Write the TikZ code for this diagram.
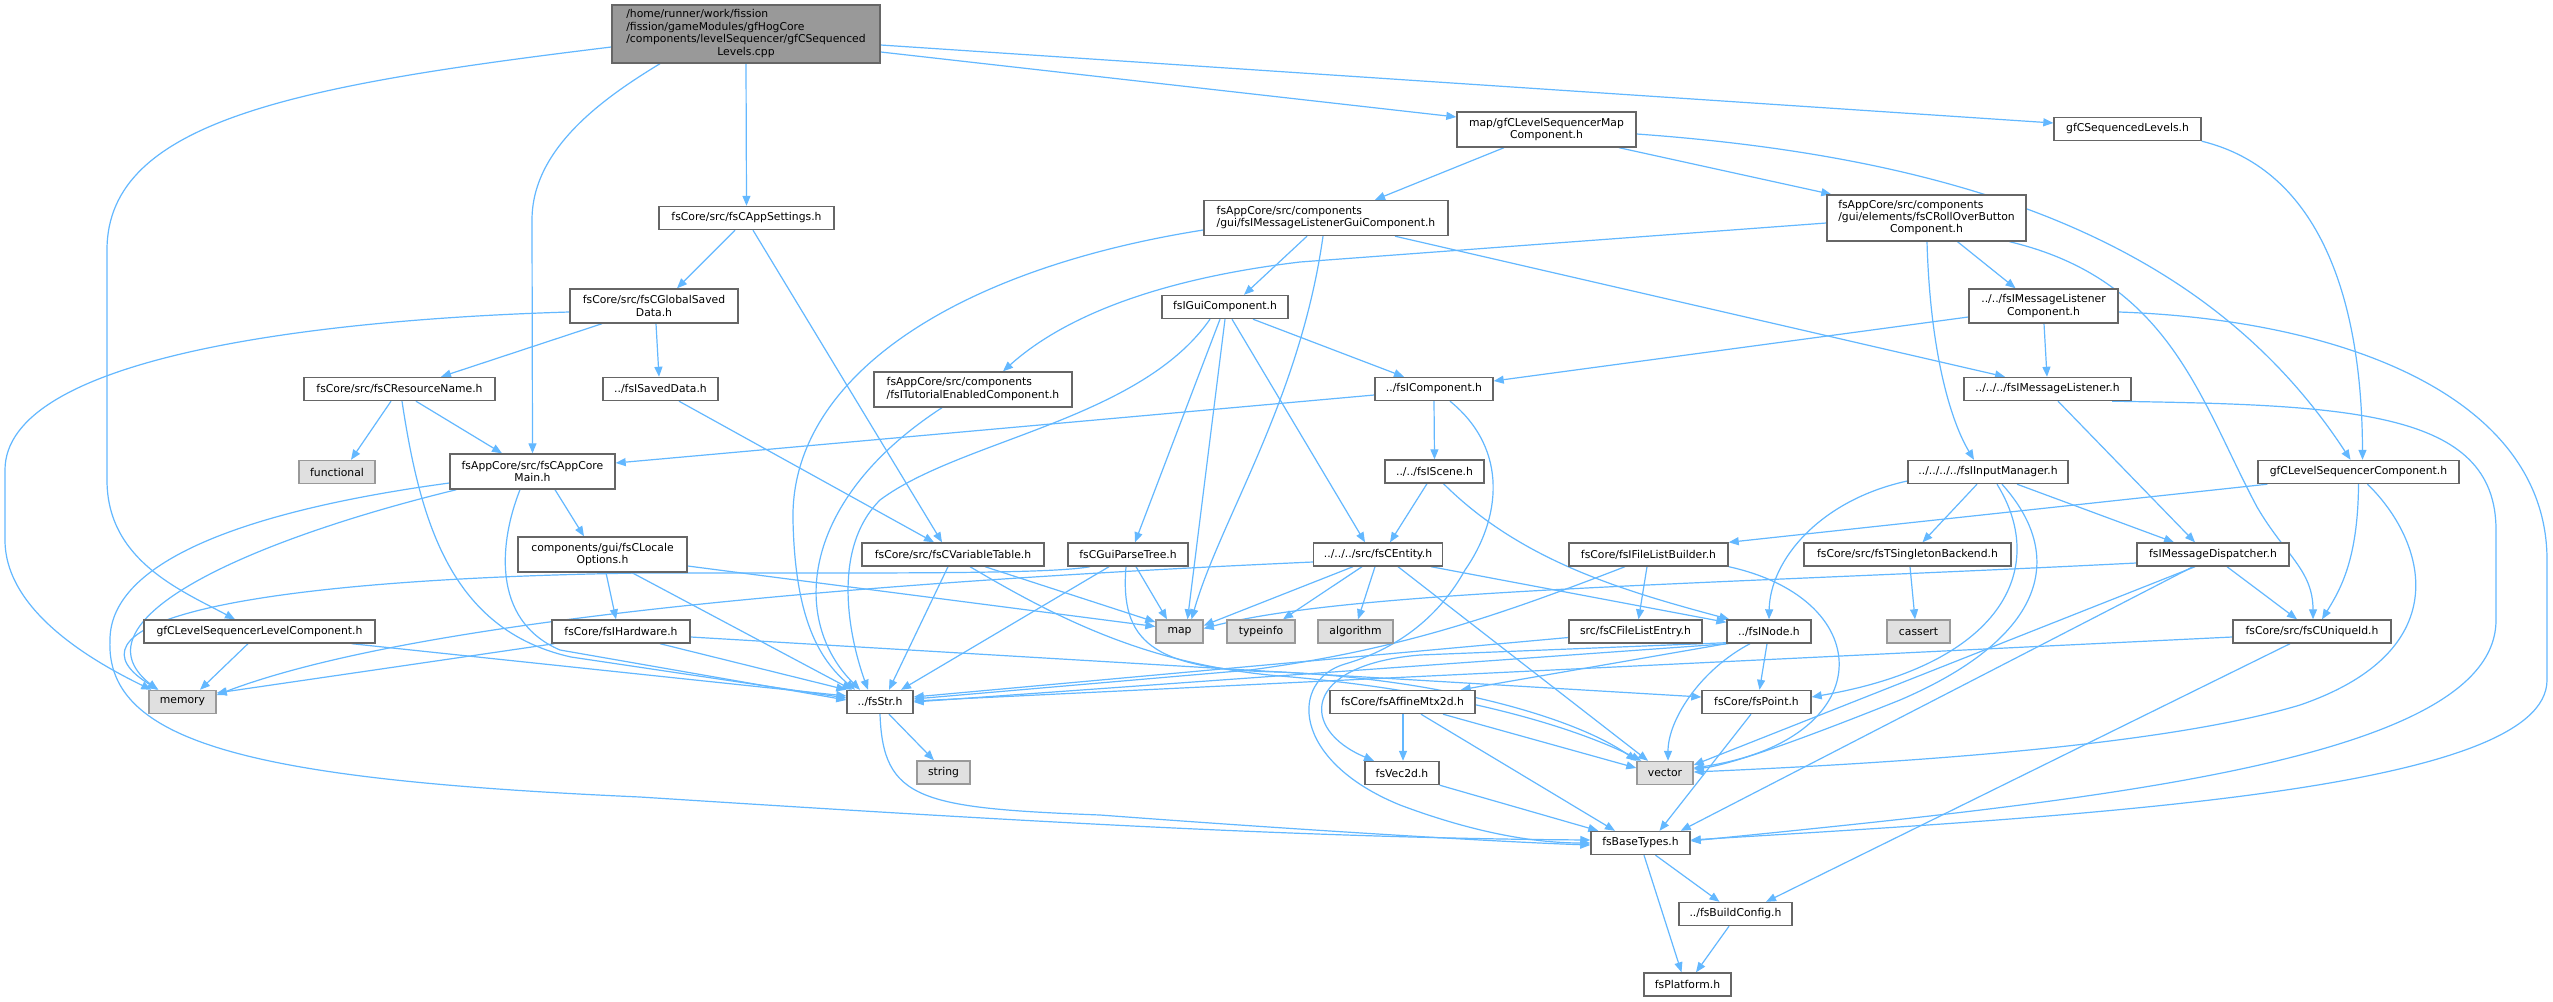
\documentclass[tikz,border=0pt]{standalone}
\usepackage{fontspec}
\setmainfont{DejaVu Sans}
\usetikzlibrary{arrows.meta}
\definecolor{edgec}{RGB}{99,184,255}
\definecolor{bordc}{RGB}{102,102,102}
\definecolor{gbord}{RGB}{153,153,153}
\definecolor{gfill}{RGB}{224,224,224}
\definecolor{mfill}{RGB}{153,153,153}
\newcommand\dgfont{\fontsize{10.8pt}{12.4pt}\selectfont}
\pgfdeclarelayer{bg}
\pgfsetlayers{bg,main}
\begin{document}
\begin{tikzpicture}[x=1pt,y=-1pt,
 fbox/.style={draw=bordc, fill=white, line width=1.4pt, inner sep=0pt, font=\dgfont, align=center},
 gbox/.style={fbox, draw=gbord, fill=gfill},
 mbox/.style={fbox, fill=mfill},
 lnk/.style={draw=edgec, line width=1.2pt, -{Triangle[length=10pt,width=8pt]}}]
\useasboundingbox (0,0) rectangle (2553,1001);
% nodes
\node[mbox, minimum width=268pt, minimum height=58pt] (main) at (746,34) {\begin{tabular}{@{}l@{}}/home/runner/work/fission\\/fission/gameModules/gfHogCore\\/components/levelSequencer/gfCSequenced\\\multicolumn{1}{@{}c@{}}{Levels.cpp}\end{tabular}};
\node[fbox, minimum width=231pt, minimum height=23pt] (LC) at (259.5,631.5) {gfCLevelSequencerLevelComponent.h};
\node[fbox, minimum width=165pt, minimum height=35pt] (ACM) at (532.5,471.5) {fsAppCore/src/fsCAppCore\\Main.h};
\node[fbox, minimum width=175pt, minimum height=23pt] (AS) at (746.5,218) {fsCore/src/fsCAppSettings.h};
\node[fbox, minimum width=179pt, minimum height=35pt] (MAP) at (1546.5,129.5) {map/gfCLevelSequencerMap\\Component.h};
\node[fbox, minimum width=147pt, minimum height=23pt] (SL) at (2127.5,129) {gfCSequencedLevels.h};
\node[fbox, minimum width=168pt, minimum height=34pt] (GSD) at (654,306) {fsCore/src/fsCGlobalSaved\\Data.h};
\node[fbox, minimum width=191pt, minimum height=23pt] (RN) at (399.5,389) {fsCore/src/fsCResourceName.h};
\node[fbox, minimum width=115pt, minimum height=23pt] (ISD) at (660.5,389) {../fsISavedData.h};
\node[gbox, minimum width=76pt, minimum height=23pt] (functional) at (337,472) {functional};
\node[gbox, minimum width=67pt, minimum height=23pt] (memory) at (182.5,702) {memory};
\node[fbox, minimum width=169pt, minimum height=35pt] (LO) at (602.5,554.5) {components/gui/fsCLocale\\Options.h};
\node[fbox, minimum width=138pt, minimum height=23pt] (HW) at (621,631.5) {fsCore/fsIHardware.h};
\node[fbox, minimum width=66pt, minimum height=23pt] (STR) at (880,702) {../fsStr.h};
\node[gbox, minimum width=53pt, minimum height=23pt] (string) at (943.5,772.5) {string};
\node[fbox, minimum width=99pt, minimum height=23pt] (BT) at (1640.5,843) {fsBaseTypes.h};
\node[fbox, minimum width=113pt, minimum height=23pt] (BC) at (1735.5,914) {../fsBuildConfig.h};
\node[fbox, minimum width=87pt, minimum height=23pt] (PF) at (1687.5,984.5) {fsPlatform.h};
\node[fbox, minimum width=182pt, minimum height=23pt] (VT) at (953,554.5) {fsCore/src/fsCVariableTable.h};
\node[gbox, minimum width=47pt, minimum height=23pt] (mapn) at (1179.5,631.5) {map};
\node[gbox, minimum width=56pt, minimum height=23pt] (vector) at (1665,773) {vector};
\node[fbox, minimum width=244pt, minimum height=35pt] (MLGC) at (1326,218) {\begin{tabular}{@{}l@{}}fsAppCore/src/components\\/gui/fsIMessageListenerGuiComponent.h\end{tabular}};
\node[fbox, minimum width=198pt, minimum height=35pt] (TEC) at (973,389.5) {\begin{tabular}{@{}l@{}}fsAppCore/src/components\\/fsITutorialEnabledComponent.h\end{tabular}};
\node[fbox, minimum width=126pt, minimum height=23pt] (GC) at (1225,307) {fsIGuiComponent.h};
\node[fbox, minimum width=118pt, minimum height=23pt] (IC) at (1434,389) {../fsIComponent.h};
\node[fbox, minimum width=99pt, minimum height=23pt] (SC) at (1434.5,471.5) {../../fsIScene.h};
\node[fbox, minimum width=129pt, minimum height=23pt] (ENT) at (1378,554.5) {../../../src/fsCEntity.h};
\node[gbox, minimum width=68pt, minimum height=23pt] (typeinfo) at (1261,631.5) {typeinfo};
\node[gbox, minimum width=75pt, minimum height=23pt] (algorithm) at (1355.5,631.5) {algorithm};
\node[fbox, minimum width=84pt, minimum height=23pt] (NODE) at (1769,631.5) {../fsINode.h};
\node[fbox, minimum width=120pt, minimum height=23pt] (GPT) at (1128,554.5) {fsCGuiParseTree.h};
\node[fbox, minimum width=199pt, minimum height=46pt] (ROB) at (1926.5,218) {\begin{tabular}{@{}l@{}}fsAppCore/src/components\\/gui/elements/fsCRollOverButton\\\multicolumn{1}{@{}c@{}}{Component.h}\end{tabular}};
\node[fbox, minimum width=149pt, minimum height=34pt] (MLC) at (2043.5,306) {../../fsIMessageListener\\Component.h};
\node[fbox, minimum width=167pt, minimum height=23pt] (ML) at (2047.5,389) {../../../fsIMessageListener.h};
\node[fbox, minimum width=160pt, minimum height=23pt] (IM) at (1988,472) {../../../../fsIInputManager.h};
\node[fbox, minimum width=159pt, minimum height=23pt] (FLB) at (1648.5,554.5) {fsCore/fsIFileListBuilder.h};
\node[fbox, minimum width=133pt, minimum height=23pt] (FLE) at (1635.5,631.5) {src/fsCFileListEntry.h};
\node[fbox, minimum width=207pt, minimum height=23pt] (TSB) at (1907.5,554.5) {fsCore/src/fsTSingletonBackend.h};
\node[gbox, minimum width=63pt, minimum height=23pt] (cassert) at (1918.5,631.5) {cassert};
\node[fbox, minimum width=152pt, minimum height=23pt] (MD) at (2213,554.5) {fsIMessageDispatcher.h};
\node[fbox, minimum width=158pt, minimum height=23pt] (UID) at (2312,631.5) {fsCore/src/fsCUniqueId.h};
\node[fbox, minimum width=201pt, minimum height=23pt] (LSC) at (2358.5,472) {gfCLevelSequencerComponent.h};
\node[fbox, minimum width=145pt, minimum height=23pt] (AFF) at (1402.5,702) {fsCore/fsAffineMtx2d.h};
\node[fbox, minimum width=109pt, minimum height=23pt] (PT) at (1756.5,702) {fsCore/fsPoint.h};
\node[fbox, minimum width=74pt, minimum height=23pt] (V2) at (1402,773) {fsVec2d.h};
% edges
\begin{pgfonlayer}{bg}
\fill[white] (0,0) rectangle (2553,1001);
\draw[lnk] ([yshift=-13pt]main.west) .. controls (300,85) and (107,120) .. (107,250) -- (107,480) .. controls (107,560) and (180,590) .. ([xshift=-24.5pt]LC.north);
\draw[lnk] ([xshift=-86pt]main.south) .. controls (600,100) and (532,150) .. (532,220) -- (ACM.north);
\draw[lnk] (main.south) -- (AS.north);
\draw[lnk] ([yshift=-18pt]main.east) -- ([yshift=12.5pt]MAP.west);
\draw[lnk] ([yshift=-11pt]main.east) -- ([yshift=6pt]SL.west);
\draw[lnk] ([xshift=-11.5pt]AS.south) -- ([xshift=23pt]GSD.north);
\draw[lnk] ([xshift=6.5pt]AS.south) -- ([xshift=-11pt]VT.north);
\draw[lnk] ([yshift=-6pt]GSD.west) .. controls (300,320) and (5,360) .. (5,470) -- (5,540) .. controls (5,610) and (90,660) .. ([xshift=3pt]memory.north west);
\draw[lnk] ([xshift=-52pt]GSD.south) -- ([xshift=41.5pt]RN.north);
\draw[lnk] ([xshift=2pt]GSD.south) -- ([xshift=-1.5pt]ISD.north);
\draw[lnk] ([xshift=18.5pt]ISD.south) -- ([xshift=-19pt]VT.north);
\draw[lnk] ([xshift=-8.5pt]RN.south) -- ([xshift=14pt]functional.north);
\draw[lnk] ([xshift=16.5pt]RN.south) -- ([xshift=-30.5pt]ACM.north);
\draw[lnk] ([xshift=2.5pt]RN.south) .. controls (420,520) and (450,630) .. (571,657) -- ([yshift=4pt]STR.west);
\draw[lnk] ([xshift=22.5pt]ACM.south) -- ([xshift=-18.5pt]LO.north);
\draw[lnk] ([xshift=-12.5pt]ACM.south) .. controls (500,540) and (490,620) .. (560,650) -- ([yshift=2pt]STR.west);
\draw[lnk] ([xshift=7pt]ACM.south west) .. controls (250,540) and (70,620) .. ([xshift=-25pt]memory.north);
\draw[lnk] ([yshift=-11.5pt]ACM.west) .. controls (250,510) and (110,560) .. (110,640) .. controls (105,745) and (260,780) .. (640,797) .. controls (1000,820) and (1300,838) .. ([yshift=3pt]BT.west);
\draw[lnk] ([xshift=-11.5pt]LC.south) -- ([xshift=17.5pt]memory.north);
\draw[lnk] ([xshift=-24pt]LC.south east) -- ([yshift=6pt]STR.west);
\draw[lnk] ([xshift=3.5pt]LO.south) -- ([xshift=-5pt]HW.north);
\draw[lnk] ([xshift=29.5pt]LO.south) -- ([xshift=-28pt]STR.north);
\draw[lnk] ([yshift=-11.5pt]LO.east) -- ([yshift=5pt]mapn.west);
\draw[lnk] ([xshift=3pt]HW.south west) -- ([yshift=9pt]memory.east);
\draw[lnk] ([xshift=39pt]HW.south) -- (STR.north west);
\draw[lnk] ([yshift=-5.5pt]HW.east) -- ([yshift=5pt]PT.west);
\draw[lnk] ([xshift=-42.5pt]MAP.south) -- ([xshift=49pt]MLGC.north);
\draw[lnk] ([xshift=72.5pt]MAP.south) -- ([xshift=5pt]ROB.north west);
\draw[lnk] ([yshift=-4.5pt]MAP.east) .. controls (2000,160) and (2220,260) .. ([xshift=-8pt]LSC.north);
\draw[lnk] (SL.south east) .. controls (2320,170) and (2362,300) .. ([xshift=4pt]LSC.north);
\draw[lnk] ([xshift=-19pt]MLGC.south) -- ([xshift=19pt]GC.north);
\draw[lnk] ([yshift=-12pt]MLGC.west) .. controls (950,270) and (790,380) .. (793,520) .. controls (795,620) and (820,660) .. ([xshift=-25pt]STR.north);
\draw[lnk] ([xshift=-3pt]MLGC.south) .. controls (1300,400) and (1220,520) .. ([xshift=12pt]mapn.north);
\draw[lnk] ([xshift=69pt]MLGC.south) -- ([xshift=-42.5pt]ML.north);
\draw[lnk] ([xshift=-31pt]TEC.south) .. controls (800,500) and (790,620) .. ([xshift=-20pt]STR.north);
\draw[lnk] ([yshift=-5pt]ROB.west) -- (1300,262) .. controls (1150,280) and (1060,320) .. ([xshift=30pt]TEC.north);
\draw[lnk] ([xshift=31pt]ROB.south) -- ([xshift=-28pt]MLC.north);
\draw[lnk] ([xshift=0.5pt]ROB.south) .. controls (1930,350) and (1950,420) .. ([xshift=-14pt]IM.north);
\draw[lnk] ([xshift=83pt]ROB.south) .. controls (2170,280) and (2200,400) .. (2257,507) .. controls (2285,555) and (2313,570) .. ([xshift=1pt]UID.north);
\draw[lnk] ([yshift=-11pt]MLC.west) -- ([yshift=8pt]IC.east);
\draw[lnk] ([xshift=0.5pt]MLC.south) -- ([xshift=-0.5pt]ML.north);
\draw[lnk] ([yshift=-6pt]MLC.east) .. controls (2350,320) and (2547,400) .. (2547,560) -- (2547,680) .. controls (2547,790) and (2100,815) .. ([yshift=3pt]BT.east);
\draw[lnk] ([xshift=10.5pt]ML.south) -- ([xshift=-18pt]MD.north);
\draw[lnk] ([xshift=64.5pt]ML.south) .. controls (2350,405) and (2496,410) .. (2496,530) -- (2496,620) .. controls (2496,760) and (2100,800) .. ([yshift=2pt]BT.east);
\draw[lnk] ([xshift=-15pt]GC.south) .. controls (1140,420) and (960,440) .. (880,500) .. controls (830,550) and (850,640) .. ([xshift=-12pt]STR.north);
\draw[lnk] ([xshift=-5pt]GC.south) -- ([xshift=7pt]GPT.north);
\draw[lnk] (GC.south) -- ([xshift=8pt]mapn.north);
\draw[lnk] ([xshift=7pt]GC.south) -- ([xshift=-13pt]ENT.north);
\draw[lnk] ([xshift=28pt]GC.south) -- ([xshift=-30pt]IC.north);
\draw[lnk] ([yshift=-6pt]IC.west) -- ([yshift=8.5pt]ACM.east);
\draw[lnk] (IC.south) -- (SC.north);
\draw[lnk] ([xshift=16pt]IC.south) .. controls (1510,450) and (1500,520) .. (1465,570) .. controls (1440,615) and (1400,648) .. (1345,664) .. controls (1290,680) and (1290,760) .. (1400,805) .. controls (1480,835) and (1540,843) .. (BT.west);
\draw[lnk] ([xshift=-7.5pt]SC.south) -- ([xshift=12pt]ENT.north);
\draw[lnk] ([xshift=9pt]SC.south) .. controls (1520,560) and (1620,590) .. ([xshift=3pt]NODE.north west);
\draw[lnk] ([yshift=-7.5pt]ENT.west) .. controls (800,585) and (400,625) .. ([yshift=7pt]memory.east);
\draw[lnk] ([xshift=-25pt]ENT.south) -- ([yshift=6pt]mapn.east);
\draw[lnk] ([xshift=-16pt]ENT.south) -- ([xshift=22pt]typeinfo.north);
\draw[lnk] ([xshift=-3pt]ENT.south) -- ([xshift=2.5pt]algorithm.north);
\draw[lnk] ([xshift=20pt]ENT.south) -- ([xshift=-17pt]vector.north);
\draw[lnk] ([xshift=53pt]ENT.south) -- ([yshift=-3pt]NODE.north west);
\draw[lnk] ([xshift=-38pt]GPT.south) .. controls (1050,574) and (900,573) .. (640,573) .. controls (200,580) and (60,630) .. ([xshift=-24pt]memory.north);
\draw[lnk] ([xshift=-19pt]GPT.south) -- ([xshift=21pt]STR.north);
\draw[lnk] ([xshift=8pt]GPT.south) -- ([xshift=-12.5pt]mapn.north);
\draw[lnk] ([xshift=-2pt]GPT.south) .. controls (1120,640) and (1150,670) .. (1280,672) .. controls (1450,680) and (1580,720) .. (vector.north west);
\draw[lnk] ([xshift=-5pt]VT.south) -- ([xshift=9pt]STR.north);
\draw[lnk] ([xshift=32pt]VT.south) -- ([yshift=9.5pt]mapn.west);
\draw[lnk] ([xshift=17pt]VT.south) .. controls (1060,620) and (1150,665) .. (1280,676) .. controls (1450,690) and (1570,725) .. ([xshift=5pt]vector.north west);
\draw[lnk] ([xshift=9pt]STR.south) -- ([xshift=-9.5pt]string.north);
\draw[lnk] (STR.south) .. controls (883,800) and (920,808) .. (1100,815) .. controls (1300,830) and (1500,842) .. ([yshift=-2pt]BT.west);
\draw[lnk] ([xshift=-23.5pt]FLB.south) .. controls (1500,615) and (1400,650) .. (1250,670) -- ([yshift=3pt]STR.east);
\draw[lnk] ([xshift=-1.5pt]FLB.south) -- ([xshift=3pt]FLE.north);
\draw[lnk] (FLB.south east) .. controls (1880,600) and (1880,740) .. ([yshift=5pt]vector.east);
\draw[lnk] ([yshift=-6pt]FLE.west) -- ([yshift=5pt]STR.east);
\draw[lnk] ([xshift=2pt]NODE.south west) -- (STR.east);
\draw[lnk] (NODE.south west) -- ([xshift=-15pt]AFF.north east);
\draw[lnk] ([yshift=1pt]NODE.south west) -- (1420,655) .. controls (1300,665) and (1300,730) .. ([xshift=-28pt]V2.north);
\draw[lnk] ([xshift=-19pt]NODE.south) .. controls (1700,670) and (1668,720) .. ([xshift=3pt]vector.north);
\draw[lnk] ([xshift=-2pt]NODE.south) -- ([xshift=3pt]PT.north);
\draw[lnk] ([xshift=0.5pt]AFF.south) -- ([xshift=1pt]V2.north);
\draw[lnk] ([xshift=40.5pt]AFF.south) -- ([yshift=5pt]vector.west);
\draw[lnk] ([xshift=18.5pt]AFF.south) -- ([xshift=-25.5pt]BT.north);
\draw[lnk] (V2.south east) -- ([xshift=8pt]BT.north west);
\draw[lnk] ([xshift=-5.5pt]PT.south) -- ([xshift=19pt]BT.north);
\draw[lnk] ([xshift=15pt]BT.south) -- ([xshift=-16pt]BC.north);
\draw[lnk] ([xshift=3.5pt]BT.south) -- ([xshift=-6pt]PF.north);
\draw[lnk] ([xshift=-6.5pt]BC.south) -- ([xshift=8.5pt]PF.north);
\draw[lnk] ([yshift=-9pt]IM.west) .. controls (1820,500) and (1770,560) .. (NODE.north);
\draw[lnk] ([xshift=-11pt]IM.south) -- ([xshift=15pt]TSB.north);
\draw[lnk] ([xshift=29pt]IM.south) -- ([xshift=-39pt]MD.north);
\draw[lnk] ([xshift=9pt]IM.south) .. controls (2050,570) and (2000,665) .. ([yshift=5pt]PT.east);
\draw[lnk] ([xshift=14pt]IM.south) .. controls (2070,560) and (2040,640) .. (1900,700) .. controls (1800,740) and (1730,765) .. ([yshift=4pt]vector.east);
\draw[lnk] ([xshift=2.5pt]TSB.south) -- ([xshift=-3.5pt]cassert.north);
\draw[lnk] ([yshift=-8.5pt]MD.west) .. controls (1700,585) and (1350,590) .. ([yshift=3pt]mapn.east);
\draw[lnk] ([xshift=14pt]MD.south) -- ([xshift=-15pt]UID.north);
\draw[lnk] ([xshift=-18pt]MD.south) -- ([yshift=8pt]vector.east);
\draw[lnk] ([xshift=-20pt]MD.south) -- ([xshift=-10pt]BT.north east);
\draw[lnk] ([yshift=-5.5pt]UID.west) -- ([yshift=1pt]STR.east);
\draw[lnk] ([xshift=-22pt]UID.south) -- ([xshift=30.5pt]BC.north);
\draw[lnk] ([xshift=10pt]LSC.south west) -- (FLB.north east);
\draw[lnk] (LSC.south) .. controls (2358,560) and (2340,590) .. ([xshift=10pt]UID.north);
\draw[lnk] ([xshift=9pt]LSC.south) .. controls (2425,540) and (2460,650) .. (2300,705) .. controls (2150,750) and (1850,765) .. ([yshift=1pt]vector.east);
\end{pgfonlayer}
\end{tikzpicture}
\end{document}
